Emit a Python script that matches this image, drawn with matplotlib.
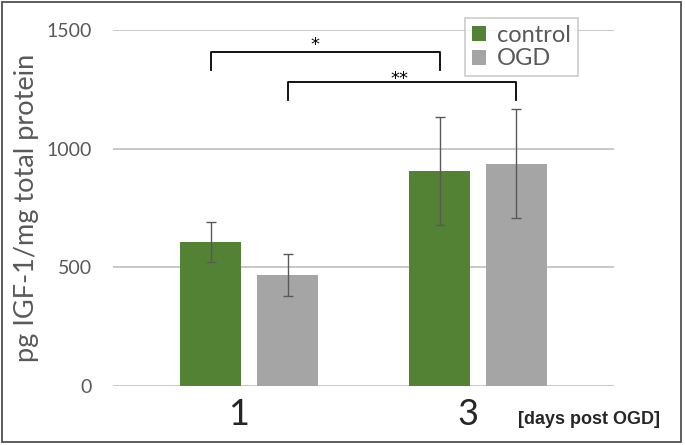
import matplotlib
matplotlib.use("Agg")
import matplotlib.pyplot as plt
import matplotlib.transforms as mtransforms
from matplotlib.patches import Rectangle

# values
days = ["1", "3"]
control = [608, 906]
control_err = [84, 227]
ogd = [468, 937]
ogd_err = [88, 231]
yticks = [0, 500, 1000, 1500]

GREEN = "#548235"
GRAY = "#A5A5A5"
GRID = "#BFBFBF"
TEXT = "#595959"

plt.rcParams['font.family'] = ['Lato', 'DejaVu Sans']

fig = plt.figure(figsize=(6.85, 4.45), dpi=100)
ax = fig.add_axes([0.165, 0.1326, 0.7314, 0.8])

x = [0, 1]
w = 0.266
off = 0.168
xc = [p - off for p in x]
xo = [p + off for p in x]

err_kw = dict(ecolor=TEXT, elinewidth=1.0, capsize=3.5, capthick=1.0)
ax.bar(xc, control, w, color=GREEN, yerr=control_err, error_kw=err_kw,
       label="control", zorder=3)
ax.bar(xo, ogd, w, color=GRAY, yerr=ogd_err, error_kw=err_kw,
       label="OGD", zorder=3)

ax.set_xlim(-0.594, 1.594)
ax.set_ylim(0, 1500)
ax.set_yticks(yticks)
ax.yaxis.grid(True, color=GRID, linewidth=1.2)
ax.set_axisbelow(True)
for s in ["top", "right", "left", "bottom"]:
    ax.spines[s].set_visible(False)
ax.tick_params(axis="y", length=0, pad=15, labelsize=14, labelcolor=TEXT)
ax.tick_params(axis="x", length=0, pad=9, labelsize=26, labelcolor="#262626")
ax.set_xticks(x)
ax.set_xticklabels(days)
shift = mtransforms.ScaledTranslation(-10 / 100, 0, fig.dpi_scale_trans)
for lab in ax.get_xticklabels():
    lab.set_transform(lab.get_transform() + shift)

ax.set_ylabel("pg IGF-1/mg total protein", fontsize=19.5, color=TEXT)
ax.yaxis.set_label_coords(-0.148, 0.5)

# significance brackets
def bracket(x1, x2, top, leg, label, lx, dy):
    ax.plot([x1, x1, x2, x2], [leg, top, top, leg], color="black",
            linewidth=1.3, clip_on=False, zorder=4)
    ax.text(lx, top + dy, label, ha="center", va="bottom", fontsize=13,
            family=['DejaVu Sans'], color="black")

bracket(xc[0], xc[1], 1407, 1332, "*", 0.29, -8)
bracket(xo[0], xo[1], 1281, 1205, "**", 0.656, -25)

leg = ax.legend(loc="upper left", bbox_to_anchor=(0.703, 1.034), borderaxespad=0,
                frameon=True, fancybox=False, edgecolor=GRID, fontsize=17,
                handlelength=0.6, handleheight=0.6, handletextpad=0.45,
                labelspacing=0.1, borderpad=0.3, labelcolor=TEXT)
leg.get_frame().set_linewidth(1.2)

fig.text(518 / 685, 1 - 420 / 445, "[days post OGD]", ha="left", va="center",
         fontsize=13, fontweight="bold", color="#262626",
         family=['Liberation Sans', 'DejaVu Sans'])

fig.patches.append(Rectangle((2 / 685, 3 / 445), 679 / 685, 440 / 445,
                             transform=fig.transFigure, fill=False,
                             edgecolor="#505050", linewidth=1.3))

fig.savefig("out.png", dpi=100)
